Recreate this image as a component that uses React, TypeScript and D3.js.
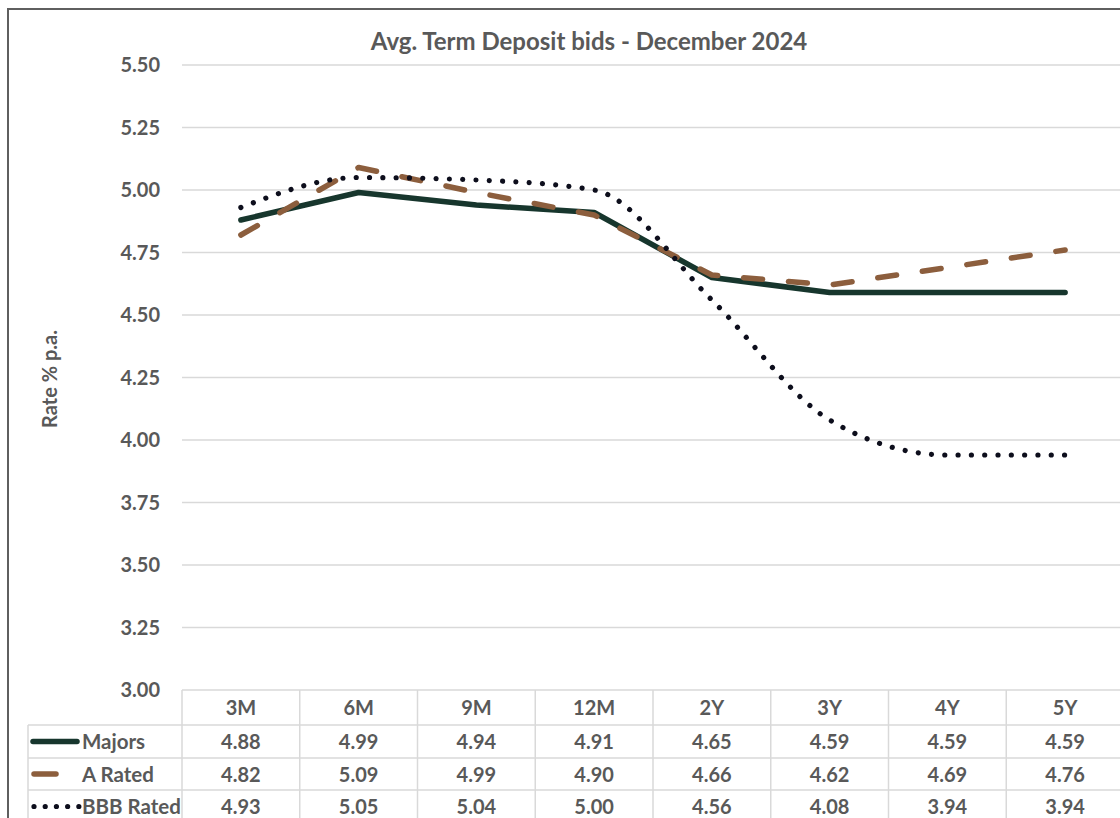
import React from "react";
import * as d3 from "d3";

const title = "Avg. Term Deposit bids - December 2024";
const yAxisTitle = "Rate % p.a.";
const terms = ["3M", "6M", "9M", "12M", "2Y", "3Y", "4Y", "5Y"];
const majors = [4.88, 4.99, 4.94, 4.91, 4.65, 4.59, 4.59, 4.59];
const aRated = [4.82, 5.09, 4.99, 4.9, 4.66, 4.62, 4.69, 4.76];
const bbbRated = [4.93, 5.05, 5.04, 5.0, 4.56, 4.08, 3.94, 3.94];
const yTicks = [3.0, 3.25, 3.5, 3.75, 4.0, 4.25, 4.5, 4.75, 5.0, 5.25, 5.5];

const W = 1120;
const H = 818;
const FONT = "Lato, 'Open Sans', sans-serif";
const TEXT = "#595959";
const GRID = "#d9d9d9";

type Series = {
  name: string;
  values: number[];
  color: string;
  width: number;
  dash?: string;
  smooth?: boolean;
};

const series: Series[] = [
  { name: "Majors", values: majors, color: "#17362d", width: 5.5 },
  { name: "A Rated", values: aRated, color: "#8c5e3d", width: 5.5, dash: "19 26" },
  { name: "BBB Rated", values: bbbRated, color: "#0d0e1c", width: 5.2, dash: "0.01 13.3", smooth: true },
];

export default function App() {
  const x = d3.scaleBand<string>().domain(terms).range([182, 1124]).padding(0);
  const y = d3.scaleLinear().domain([3, 5.5]).range([690, 65]);
  const cx = (t: string) => (x(t) ?? 0) + x.bandwidth() / 2;

  const rowTops = [690, 725, 758, 790, 823];
  const tableLeft = 28;

  const makeLine = (s: Series) =>
    d3
      .line<number>()
      .x((_, i) => cx(terms[i]))
      .y((v) => y(v))
      .curve(s.smooth ? d3.curveMonotoneX : d3.curveLinear)(s.values) ?? "";

  return (
    <svg
      width={W}
      height={H}
      style={{ position: "absolute", left: 0, top: 0, background: "#fff" }}
      fontFamily={FONT}
    >
      <rect x={0} y={0} width={W} height={H} fill="#fff" />
      {/* chart frame */}
      <rect x={8} y={9} width={W + 20} height={H + 20} fill="none" stroke="#5f5f5f" strokeWidth={2} />

      <text x={589} y={50} textAnchor="middle" fontSize={24} fontWeight={700} fill={TEXT}>
        {title}
      </text>

      {/* gridlines and y labels */}
      {yTicks.map((t) => (
        <g key={t}>
          <line x1={182} x2={1124} y1={y(t)} y2={y(t)} stroke={GRID} strokeWidth={1.5} />
          <text x={160} y={y(t) + 7} textAnchor="end" fontSize={20} fontWeight={700} fill={TEXT}>
            {t.toFixed(2)}
          </text>
        </g>
      ))}

      <text
        transform={`translate(57,379) rotate(-90)`}
        textAnchor="middle"
        fontSize={20}
        fontWeight={700}
        fill={TEXT}
      >
        {yAxisTitle}
      </text>

      {/* data table grid */}
      {rowTops.slice(1).map((ry) => (
        <line key={ry} x1={tableLeft} x2={1124} y1={ry} y2={ry} stroke={GRID} strokeWidth={1.5} />
      ))}
      <line x1={tableLeft} x2={tableLeft} y1={725} y2={H} stroke={GRID} strokeWidth={1.5} />
      {terms.map((t) => (
        <line key={t} x1={x(t)} x2={x(t)} y1={690} y2={H} stroke={GRID} strokeWidth={1.5} />
      ))}

      {terms.map((t) => (
        <text key={t} x={cx(t)} y={715} textAnchor="middle" fontSize={20} fontWeight={700} fill={TEXT}>
          {t}
        </text>
      ))}

      {series.map((s, r) => {
        const top = rowTops[r + 1];
        const mid = (top + rowTops[r + 2]) / 2;
        return (
          <g key={s.name}>
            {r === 0 && (
              <line x1={33} x2={77} y1={mid} y2={mid} stroke={s.color} strokeWidth={s.width} strokeLinecap="round" />
            )}
            {r === 1 && (
              <line x1={34} x2={56} y1={mid} y2={mid} stroke={s.color} strokeWidth={s.width} strokeLinecap="round" />
            )}
            {r === 2 && (
              <line
                x1={34}
                x2={79}
                y1={mid}
                y2={mid}
                stroke={s.color}
                strokeWidth={s.width}
                strokeLinecap="round"
                strokeDasharray="0.01 11.2"
              />
            )}
            <text x={82} y={mid + 7.5} fontSize={20.5} fontWeight={700} fill={TEXT}>
              {s.name}
            </text>
            {s.values.map((v, i) => (
              <text
                key={i}
                x={cx(terms[i])}
                y={mid + 7.5}
                textAnchor="middle"
                fontSize={20}
                fontWeight={700}
                fill={TEXT}
              >
                {v.toFixed(2)}
              </text>
            ))}
          </g>
        );
      })}

      {/* series lines */}
      {series.map((s) => (
        <path
          key={s.name}
          d={makeLine(s)}
          fill="none"
          stroke={s.color}
          strokeWidth={s.width}
          strokeDasharray={s.dash}
          strokeLinecap="round"
          strokeLinejoin="round"
        />
      ))}
    </svg>
  );
}
